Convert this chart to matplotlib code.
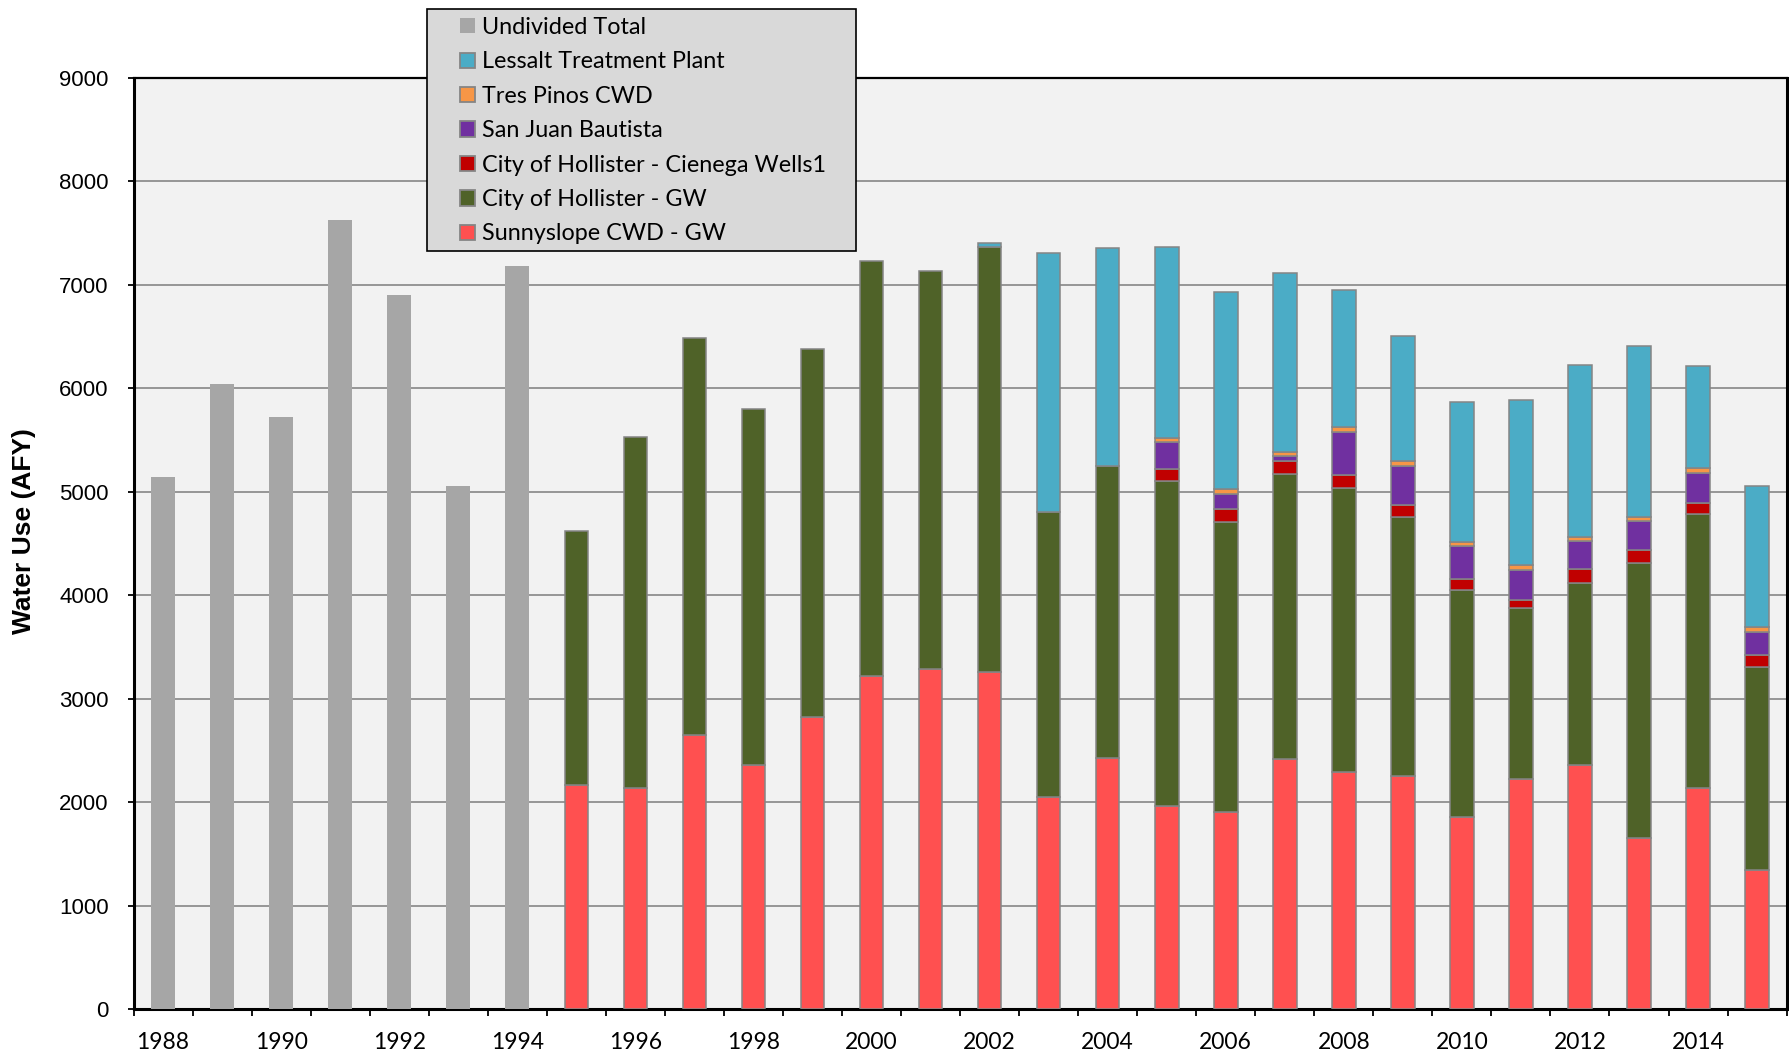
import numpy as np
import matplotlib
matplotlib.use("Agg")
import matplotlib.pyplot as plt
from matplotlib.patches import Rectangle

# ---------------- data ----------------
years = [1988, 1989, 1990, 1991, 1992, 1993, 1994, 1995, 1996, 1997, 1998, 1999, 2000, 2001,
         2002, 2003, 2004, 2005, 2006, 2007, 2008, 2009, 2010, 2011, 2012, 2013, 2014, 2015]
undivided = [5145, 6040, 5718, 7625, 6903, 5058, 7177, 0, 0, 0, 0, 0, 0, 0,
             0, 0, 0, 0, 0, 0, 0, 0, 0, 0, 0, 0, 0, 0]
sunnyslope = [0, 0, 0, 0, 0, 0, 0, 2166, 2137, 2643, 2359, 2820, 3220, 3287,
              3254, 2053, 2424, 1957, 1902, 2414, 2292, 2250, 1860, 2224, 2359, 1657, 2134, 1345]
hollister_gw = [0, 0, 0, 0, 0, 0, 0, 2449, 3386, 3840, 3437, 3560, 4011, 3848,
                4112, 2748, 2824, 3143, 2805, 2760, 2747, 2500, 2186, 1649, 1758, 2650, 2646, 1961]
cienega = [0, 0, 0, 0, 0, 0, 0, 0, 0, 0, 0, 0, 0, 0,
           0, 0, 0, 122, 126, 119, 119, 118, 113, 77, 132, 126, 110, 116]
san_juan = [0, 0, 0, 0, 0, 0, 0, 0, 0, 0, 0, 0, 0, 0,
            0, 0, 0, 254, 148, 48, 421, 375, 312, 296, 270, 280, 292, 222]
tres_pinos = [0, 0, 0, 0, 0, 0, 0, 0, 0, 0, 0, 0, 0, 0,
              0, 0, 0, 45, 48, 42, 45, 48, 39, 42, 42, 41, 42, 45]
lessalt = [0, 0, 0, 0, 0, 0, 0, 0, 0, 0, 0, 0, 0, 0,
           32, 2501, 2106, 1846, 1903, 1726, 1325, 1214, 1352, 1600, 1661, 1655, 985, 1368]

tick_years = ["1988", "1990", "1992", "1994", "1996", "1998", "2000",
              "2002", "2004", "2006", "2008", "2010", "2012", "2014"]
y_ticks = [0, 1000, 2000, 3000, 4000, 5000, 6000, 7000, 8000, 9000]

# ---------------- style ----------------
c_undiv = "#A6A6A6"
c_less = "#4BACC6"
c_tres = "#F79646"
c_sjb = "#7030A0"
c_cien = "#C00000"
c_holl = "#4F6228"
c_sunny = "#FF5050"
edge = "#858585"

fig = plt.figure(figsize=(17.9, 10.55), dpi=100)
fig.patch.set_facecolor("white")
ax = fig.add_axes([0.0746, 0.0436, 0.9235, 0.8828])
ax.set_facecolor("#F2F2F2")

x = np.arange(len(years))
w = 0.4

def draw(vals, bottom, color, ec, lw):
    vals = np.asarray(vals, float)
    bottom = np.asarray(bottom, float)
    m = vals > 0
    ax.bar(x[m], vals[m], w, bottom=bottom[m], color=color, edgecolor=ec,
           linewidth=lw, zorder=3)
    return bottom + vals

draw(undivided, np.zeros(len(years)), c_undiv, "none", 0)
b = np.zeros(len(years))
b = draw(sunnyslope, b, c_sunny, edge, 1.1)
b = draw(hollister_gw, b, c_holl, edge, 1.1)
b = draw(cienega, b, c_cien, edge, 1.1)
b = draw(san_juan, b, c_sjb, edge, 1.1)
b = draw(tres_pinos, b, c_tres, edge, 1.1)
b = draw(lessalt, b, c_less, edge, 1.1)

ax.set_xlim(-0.5, len(years) - 0.5)
ax.set_ylim(0, 9000)

# y axis
ax.set_yticks(y_ticks)
ax.set_yticklabels([str(v) for v in y_ticks], fontfamily="Liberation Sans", fontsize=16)
ax.tick_params(axis="y", direction="out", length=4.5, width=1.3, pad=13.5, color="black")
ax.yaxis.grid(True, color="#868686", linewidth=1.2, zorder=1)
ax.set_axisbelow(True)

# x axis: ticks at category boundaries, labels on even years
ax.set_xticks(np.arange(-0.5, len(years), 1.0))
ax.set_xticklabels([])
ax.tick_params(axis="x", which="major", direction="out", length=5, width=1.3, color="black")
label_pos = [years.index(int(t)) for t in tick_years]
ax.set_xticks(label_pos, minor=True)
ax.set_xticklabels(tick_years, minor=True, fontfamily="Lato", fontsize=16.5)
ax.tick_params(axis="x", which="minor", length=0, pad=16.5)

for s in ["left", "bottom", "right"]:
    ax.spines[s].set_linewidth(2.2)
    ax.spines[s].set_color("black")
ax.spines["top"].set_linewidth(1.6)
ax.spines["top"].set_color("black")

ax.set_ylabel("Water Use (AFY)", fontfamily="Liberation Sans", fontweight="bold", fontsize=19)
ax.yaxis.set_label_coords(-0.0588, 0.513)

# legend
frame = Rectangle((427 / 1790, 1 - 251 / 1055), (856 - 427) / 1790, (251 - 9) / 1055,
                  transform=fig.transFigure, facecolor="#D9D9D9", edgecolor="black",
                  linewidth=1.2, zorder=10)
fig.patches.append(frame)

labels = ["Undivided Total", "Lessalt Treatment Plant", "Tres Pinos CWD", "San Juan Bautista",
          "City of Hollister - Cienega Wells1", "City of Hollister - GW", "Sunnyslope CWD - GW"]
cols = [c_undiv, c_less, c_tres, c_sjb, c_cien, c_holl, c_sunny]
handles = []
for i, c in enumerate(cols):
    ec = "none" if i == 0 else edge
    handles.append(Rectangle((0, 0), 1, 1, facecolor=c, edgecolor=ec, linewidth=1.3))
leg = fig.legend(handles, labels, loc="upper left", bbox_to_anchor=(460 / 1790, 1 - 17 / 1055),
                 frameon=False, prop={"family": "Lato", "size": 16.8},
                 handlelength=0.63, handleheight=0.63, handletextpad=0.3,
                 labelspacing=0.575, borderpad=0.0, borderaxespad=0.0)
leg.set_zorder(11)

fig.savefig("out.png", dpi=100, facecolor="white")
